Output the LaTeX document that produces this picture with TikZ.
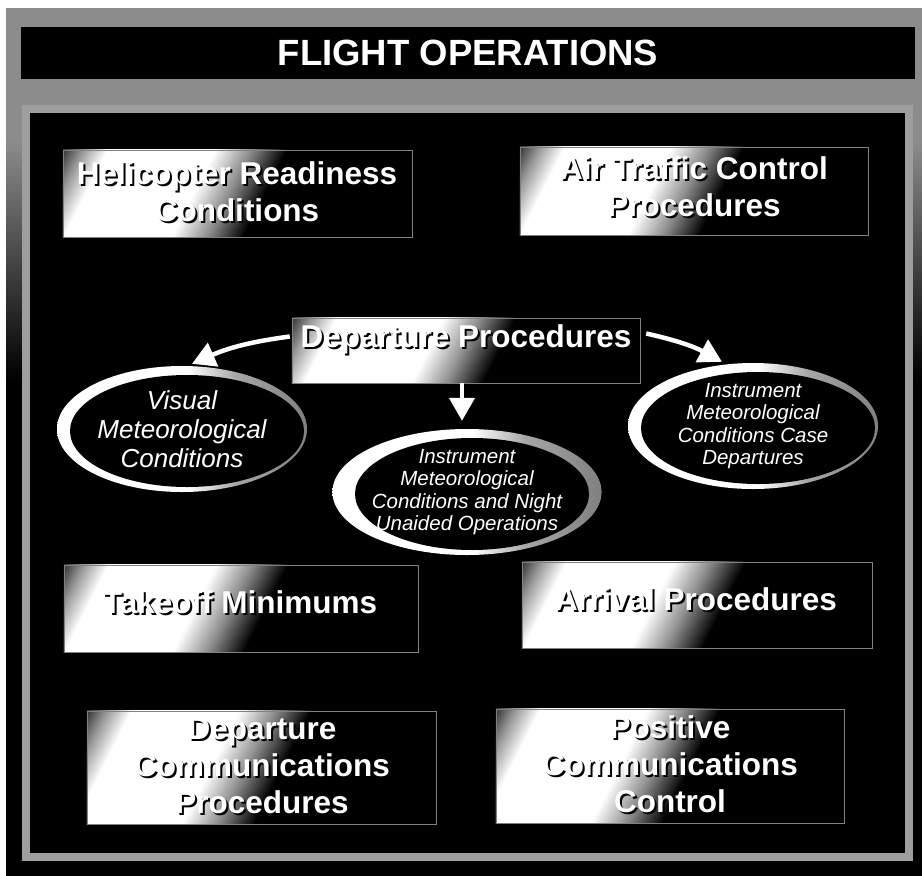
\documentclass[tikz,border=0pt]{standalone}
\usepackage{fontspec}
\setmainfont{Liberation Sans}
\usetikzlibrary{shapes.geometric,arrows.meta}
\definecolor{bggray}{gray}{0.55}
\definecolor{framegray}{gray}{0.62}
\pgfdeclarehorizontalshading{boxshade}{100bp}{color(0bp)=(black!80); color(25bp)=(black!80); color(27.25bp)=(black!40); color(30bp)=(white); color(42bp)=(white); color(46bp)=(black!45); color(50bp)=(black); color(100bp)=(black)}
\pgfdeclarehorizontalshading{ringshade}{100bp}{color(0bp)=(white); color(25bp)=(white); color(51bp)=(white); color(61bp)=(black!35); color(75bp)=(black!50); color(100bp)=(black!50)}
\newcommand\shtxt[3]{%
  \node[btxt, text=black] (#1-s) at ([shift={(2pt,-2pt)}]#2) {#3};
  \node[btxt, text=white] (#1) at (#2) {#3};
}
\newcommand\boxfill[1]{%
  \begin{scope}
    \clip (#1.north west) rectangle (#1.south east);
    \shade[shading=boxshade, transform canvas={shift={(#1.north west)}, rotate=-26.8}]
      (0pt,-250pt) rectangle (400pt,250pt);
  \end{scope}
  \draw[boxline] (#1.north west) rectangle (#1.south east);
}
\tikzset{
  sbox/.style={rectangle, inner sep=0pt},
  boxline/.style={draw=black!50, line width=0.6pt},
  btxt/.style={inner sep=0pt, align=center, font=\bfseries\fontsize{31.5pt}{37pt}\selectfont},
  ring/.style={ellipse, inner sep=0pt, minimum width=250pt, minimum height=126pt,
    shade, shading=ringshade, text=white, align=center,
    path picture={\fill[black] ([shift={(5pt,-2pt)}]path picture bounding box.center)
      ellipse [x radius=117pt, y radius=56pt];}},
  bigital/.style={font=\itshape\fontsize{26pt}{29pt}\selectfont},
  smallital/.style={font=\itshape\fontsize{20.5pt}{22.5pt}\selectfont},
  arr/.style={draw=white, line width=4.5pt, -{Triangle[width=25pt,length=23pt]}},
}
\begin{document}
\begin{tikzpicture}[x=1pt, y=-1pt]
\useasboundingbox (0,0) rectangle (922,876);
% page background
\fill[white] (0,0) rectangle (922,876);
\fill[black] (6,8) rectangle (922,876);
\fill[bggray] (6,8) rectangle (922,140);
\shade[top color=bggray, bottom color=black] (6,140) rectangle (922,380);
% title bar
\node[fill=black, minimum width=894pt, minimum height=52pt, inner sep=0pt, text=white,
  font=\bfseries\fontsize{36.5pt}{40pt}\selectfont] (title) at (468,53) {FLIGHT OPERATIONS};
% inner panel
\fill[framegray] (22,105) rectangle (913,861);
\fill[black] (30,113) rectangle (905,853);
% boxes
\node[sbox, minimum width=349pt, minimum height=87pt] (hrc) at (237.5,193.5) {};
\node[sbox, minimum width=348pt, minimum height=88pt] (atc) at (694,191) {};
\node[sbox, minimum width=348pt, minimum height=65pt] (dep) at (466,350.5) {};
\node[sbox, minimum width=354pt, minimum height=87pt] (tom) at (241,608.5) {};
\node[sbox, minimum width=350pt, minimum height=86pt] (arr) at (697,605) {};
\node[sbox, minimum width=349pt, minimum height=113pt] (dcp) at (261.5,767.5) {};
\node[sbox, minimum width=348pt, minimum height=114pt] (pcc) at (670,766) {};
\boxfill{hrc}\boxfill{atc}\boxfill{dep}\boxfill{tom}\boxfill{arr}\boxfill{dcp}\boxfill{pcc}
\shtxt{hrc-t}{237,192}{Helicopter Readiness\\Conditions}
\shtxt{atc-t}{694,187}{Air Traffic Control\\Procedures}
\shtxt{dep-t}{466,339}{Departure Procedures}
\shtxt{tom-t}{240,602.5}{Takeoff Minimums}
\shtxt{arr-t}{696,599}{Arrival Procedures}
\shtxt{dcp-t}{262,766}{Departure\\Communications\\Procedures}
\shtxt{pcc-t}{670,764}{Positive\\Communications\\Control}
% ellipses
\node[ring, bigital] (vmc) at (182,429) {Visual\\Meteorological\\Conditions};
\node[ring, smallital] (nuo) at (467,492) {Instrument\\Meteorological\\Conditions and Night\\Unaided Operations};
\node[ring, smallital] (imc) at (753,426) {Instrument\\Meteorological\\Conditions Case\\Departures};
% arrows
\draw[arr] ([xshift=-2pt,yshift=14pt]dep.west) to[bend right=8] ([xshift=10pt,yshift=2pt]vmc.north);
\draw[arr] ([xshift=6pt,yshift=17pt]dep.east) to[bend left=8] ([xshift=-31pt,yshift=1pt]imc.north);
\draw[arr] ([xshift=-4pt]dep.south) -- ([xshift=-5pt,yshift=8pt]nuo.north);
\end{tikzpicture}
\end{document}
